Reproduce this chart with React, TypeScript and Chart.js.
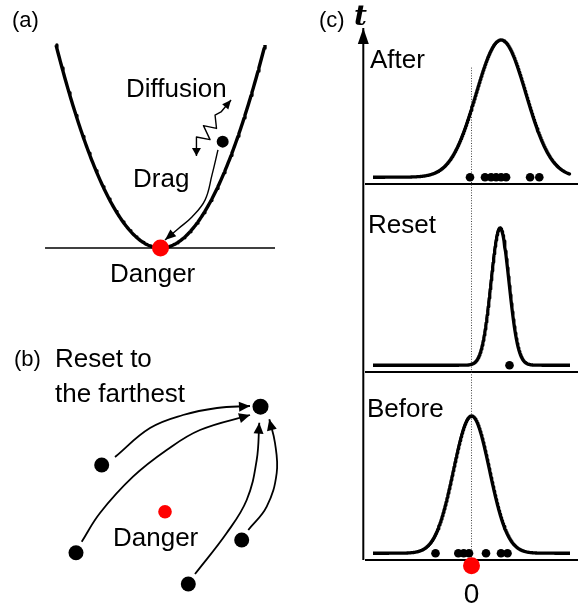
import React, { useEffect, useRef } from 'react';
import { Chart, registerables } from 'chart.js';

Chart.register(...registerables);

// ---------------- Panel (a): potential well U(x) = k x^2 ----------------
const wellCurvature = 1;
const wellRange = [-1, 1];
const groundRange = [-1.105, 1.096];
const particleX = [0.595];
const particleU = [0.524];
const dangerAX = [0];
const dangerAU = [0];
const diffusionPathX = [0.344, 0.344, 0.474, 0.411, 0.536, 0.522, 0.579, 0.675];
const diffusionPathU = [0.453, 0.547, 0.534, 0.603, 0.589, 0.655, 0.67, 0.729];
const dragPathX = [0.55, 0.493, 0.426, 0.301, 0.167, 0.043];
const dragPathU = [0.483, 0.36, 0.236, 0.153, 0.094, 0.039];

// ---------------- Panel (b): reset to the farthest ----------------
const walkerX = [-1.266, -1.78, 1.534, 0.466];
const walkerY = [0.934, -0.82, -0.566, -1.446];
const farthestX = [1.91];
const farthestY = [2.1];
const dangerBX = [0];
const dangerBY = [0];
const resetPath1X = [-1.0, -0.3, 0.36, 1.04, 1.7];
const resetPath1Y = [1.094, 1.674, 1.934, 2.074, 2.114];
const resetPath2X = [-1.666, -1.3, -0.64, 0.034, 0.7, 1.7];
const resetPath2Y = [-0.6, -0.026, 0.7, 1.234, 1.634, 1.934];
const resetPath3X = [0.6, 1.234, 1.634, 1.834, 1.886];
const resetPath3Y = [-1.246, -0.426, 0.234, 1.034, 1.78];
const resetPath4X = [1.666, 2.034, 2.234, 2.2, 2.086];
const resetPath4Y = [-0.366, 0.1, 0.774, 1.374, 1.848];

// ---------------- Panel (c): distributions in time ----------------
const phaseLabels = ['Before', 'Reset', 'After'];
const phaseMeans = [0, 1.425, 1.475];
const phaseSigmas = [0.9, 0.45, 1.25];
const beforePositions = [-1.8, -0.66, -0.39, -0.125, 0.725, 1.475, 1.8];
const resetPositions = [1.9];
const afterPositions = [-0.075, 0.675, 0.98, 1.23, 1.48, 1.73, 2.93, 3.39];
const phasePositions = [beforePositions, resetPositions, afterPositions];
const densityRange = [-4.925, 4.925];
const bandRange = [-5.325, 5.325];
const timeAxisX = -5.41;
const timeAxisTop = 2.83;
const zeroLineTop = 2.624;
const zeroTick = ['0'];

// ---------------- helpers ----------------
const SANS = '"Liberation Sans", Arial, Helvetica, sans-serif';
const BASE_OFFSET = 0.036;
const PEAK = 0.73;

const zip = (xs: number[], ys: number[]) => xs.map((x, i) => ({ x, y: ys[i] }));

function sample(x0: number, x1: number, n: number, f: (x: number) => number) {
  const pts = [] as { x: number; y: number }[];
  for (let i = 0; i <= n; i++) {
    const x = x0 + ((x1 - x0) * i) / n;
    pts.push({ x, y: f(x) });
  }
  return pts;
}

const line = (pts: any[], extra: any = {}) => ({
  data: pts,
  showLine: true,
  pointRadius: 0,
  pointHoverRadius: 0,
  borderColor: '#000',
  backgroundColor: '#000',
  borderWidth: 2,
  fill: false,
  clip: false,
  tension: 0,
  borderJoinStyle: 'round',
  ...extra,
});

const dots = (pts: any[], r: number, color: string) => ({
  data: pts,
  showLine: false,
  pointRadius: r,
  pointHoverRadius: r,
  backgroundColor: color,
  borderColor: color,
  borderWidth: 0,
  clip: false,
});

function drawHead(ctx: any, tipX: number, tipY: number, fromX: number, fromY: number, L: number, W: number, color: string) {
  const a = Math.atan2(tipY - fromY, tipX - fromX);
  const c = Math.cos(a);
  const s = Math.sin(a);
  ctx.save();
  ctx.fillStyle = color;
  ctx.beginPath();
  ctx.moveTo(tipX, tipY);
  ctx.lineTo(tipX - L * c + W * s, tipY - L * s - W * c);
  ctx.lineTo(tipX - L * c - W * s, tipY - L * s + W * c);
  ctx.closePath();
  ctx.fill();
  ctx.restore();
}

const diagramPlugin = {
  id: 'diagram',
  afterDatasetsDraw(chart: any, _args: any, opts: any) {
    const ctx = chart.ctx;
    chart.data.datasets.forEach((ds: any, i: number) => {
      const meta = chart.getDatasetMeta(i);
      const pts = meta.data;
      if (!pts || pts.length < 2) return;
      if (ds.arrowEnd) {
        const last = pts[pts.length - 1];
        let fx = pts[pts.length - 2].x;
        let fy = pts[pts.length - 2].y;
        if (last.cp1x !== undefined && Math.hypot(last.cp1x - last.x, last.cp1y - last.y) > 0.5) {
          fx = last.cp1x;
          fy = last.cp1y;
        }
        drawHead(ctx, last.x, last.y, fx, fy, ds.arrowEnd[0], ds.arrowEnd[1], ds.borderColor);
      }
      if (ds.arrowStart) {
        const first = pts[0];
        let fx = pts[1].x;
        let fy = pts[1].y;
        if (first.cp2x !== undefined && Math.hypot(first.cp2x - first.x, first.cp2y - first.y) > 0.5) {
          fx = first.cp2x;
          fy = first.cp2y;
        }
        drawHead(ctx, first.x, first.y, fx, fy, ds.arrowStart[0], ds.arrowStart[1], ds.borderColor);
      }
    });
    (opts.texts || []).forEach((t: any) => {
      ctx.save();
      ctx.font = t.font;
      ctx.fillStyle = t.color || '#000';
      ctx.textAlign = t.align || 'left';
      ctx.textBaseline = 'alphabetic';
      ctx.fillText(t.text, t.x, t.y);
      ctx.restore();
    });
  },
};

function makeConfig(xr: number[], yr: number[], datasets: any[], texts: any[]) {
  datasets.forEach((d, i) => (d.order = -i));
  return {
    type: 'scatter',
    data: { datasets },
    options: {
      animation: false,
      responsive: false,
      maintainAspectRatio: false,
      events: [],
      layout: { padding: 0, autoPadding: false },
      scales: {
        x: { type: 'linear', min: xr[0], max: xr[1], display: false },
        y: { type: 'linear', min: yr[0], max: yr[1], display: false },
      },
      plugins: {
        legend: { display: false },
        tooltip: { enabled: false },
        title: { display: false },
        diagram: { texts },
      },
    },
    plugins: [diagramPlugin],
  } as any;
}

// ---------------- panel configs ----------------
function panelA() {
  const well = sample(wellRange[0], wellRange[1], 240, (x) => wellCurvature * x * x);
  const datasets = [
    line([{ x: groundRange[0], y: 0 }, { x: groundRange[1], y: 0 }], { borderWidth: 1.3 }),
    line(well, { borderWidth: 3.4 }),
    line(zip(dragPathX, dragPathU), { borderWidth: 1.4, tension: 0.4, arrowEnd: [11, 4.5] }),
    line(zip(diffusionPathX, diffusionPathU), { borderWidth: 1.4, arrowEnd: [9, 4], arrowStart: [8, 4.5] }),
    dots(zip(particleX, particleU), 6, '#000'),
    dots(zip(dangerAX, dangerAU), 8.5, '#ff0000'),
  ];
  const texts = [
    { text: '(a)', x: 12, y: 27, font: `22px ${SANS}` },
    { text: 'Diffusion', x: 126, y: 97, font: `26px ${SANS}` },
    { text: 'Drag', x: 133, y: 187, font: `26px ${SANS}` },
    { text: 'Danger', x: 110, y: 282, font: `26px ${SANS}` },
  ];
  return makeConfig([-1.536, 1.335], [-0.2562, 1.2217], datasets, texts);
}

function panelB() {
  const paths = [
    zip(resetPath1X, resetPath1Y),
    zip(resetPath2X, resetPath2Y),
    zip(resetPath3X, resetPath3Y),
    zip(resetPath4X, resetPath4Y),
  ];
  const datasets = [
    ...paths.map((p) => line(p, { borderWidth: 1.8, tension: 0.4, arrowEnd: [11, 5] })),
    dots(zip(walkerX, walkerY), 7.5, '#000'),
    dots(zip(farthestX, farthestY), 8, '#000'),
    dots(zip(dangerBX, dangerBY), 6.8, '#ff0000'),
  ];
  const texts = [
    { text: '(b)', x: 14, y: 66, font: `22px ${SANS}` },
    { text: 'Reset to', x: 55, y: 67, font: `26px ${SANS}` },
    { text: 'the farthest', x: 55, y: 102, font: `26px ${SANS}` },
    { text: 'Danger', x: 113, y: 246, font: `26px ${SANS}` },
  ];
  return makeConfig([-3.3, 2.7], [-1.886, 4.234], datasets, texts);
}

function panelC() {
  const datasets: any[] = [];
  // band separators / time-axis baselines
  [0, 1, 2].forEach((b) => {
    datasets.push(line([{ x: bandRange[0], y: b }, { x: bandRange[1], y: b }], { borderWidth: 2 }));
  });
  // danger position line
  datasets.push(
    line([{ x: 0, y: 0 }, { x: 0, y: zeroLineTop }], { borderWidth: 1, borderColor: '#444', borderDash: [1, 1.6] })
  );
  // time axis
  datasets.push(
    line([{ x: timeAxisX, y: 0 }, { x: timeAxisX, y: timeAxisTop }], { borderWidth: 2, arrowEnd: [16, 5.5] })
  );
  phaseLabels.forEach((_, b) => {
    const mu = phaseMeans[b];
    const sg = phaseSigmas[b];
    const curve = sample(densityRange[0], densityRange[1], 400, (x) =>
      b + BASE_OFFSET + PEAK * Math.exp(-0.5 * ((x - mu) / sg) ** 2)
    );
    datasets.push(line(curve, { borderWidth: 3.3 }));
    datasets.push(dots(phasePositions[b].map((x) => ({ x, y: b + BASE_OFFSET })), 4.3, '#000'));
  });
  datasets.push(dots([{ x: 0, y: -0.03 }], 8.5, '#ff0000'));
  const texts = [
    { text: '(c)', x: 19, y: 27, font: `22px ${SANS}` },
    { text: 't', x: 54, y: 25, font: `italic bold 28px "DejaVu Serif", serif` },
    { text: phaseLabels[2], x: 70, y: 68, font: `26px ${SANS}` },
    { text: phaseLabels[1], x: 68, y: 233, font: `26px ${SANS}` },
    { text: phaseLabels[0], x: 67, y: 417, font: `26px ${SANS}` },
    { text: zeroTick[0], x: 171.5, y: 603, font: `28px ${SANS}`, align: 'center' },
  ];
  return makeConfig([-8.575, 5.675], [-0.2447, 2.9787], datasets, texts);
}

function ChartCanvas({ make, left, top, width, height }: any) {
  const ref = useRef<HTMLCanvasElement>(null);
  useEffect(() => {
    const chart = new Chart(ref.current as HTMLCanvasElement, make());
    return () => chart.destroy();
  }, []);
  return (
    <canvas
      ref={ref}
      width={width}
      height={height}
      style={{ position: 'absolute', left, top, width, height, display: 'block' }}
    />
  );
}

export default function App() {
  return (
    <div style={{ position: 'absolute', left: 0, top: 0, width: 585, height: 606, background: '#fff' }}>
      <ChartCanvas make={panelA} left={0} top={0} width={300} height={300} />
      <ChartCanvas make={panelB} left={0} top={300} width={300} height={306} />
      <ChartCanvas make={panelC} left={300} top={0} width={285} height={606} />
    </div>
  );
}
